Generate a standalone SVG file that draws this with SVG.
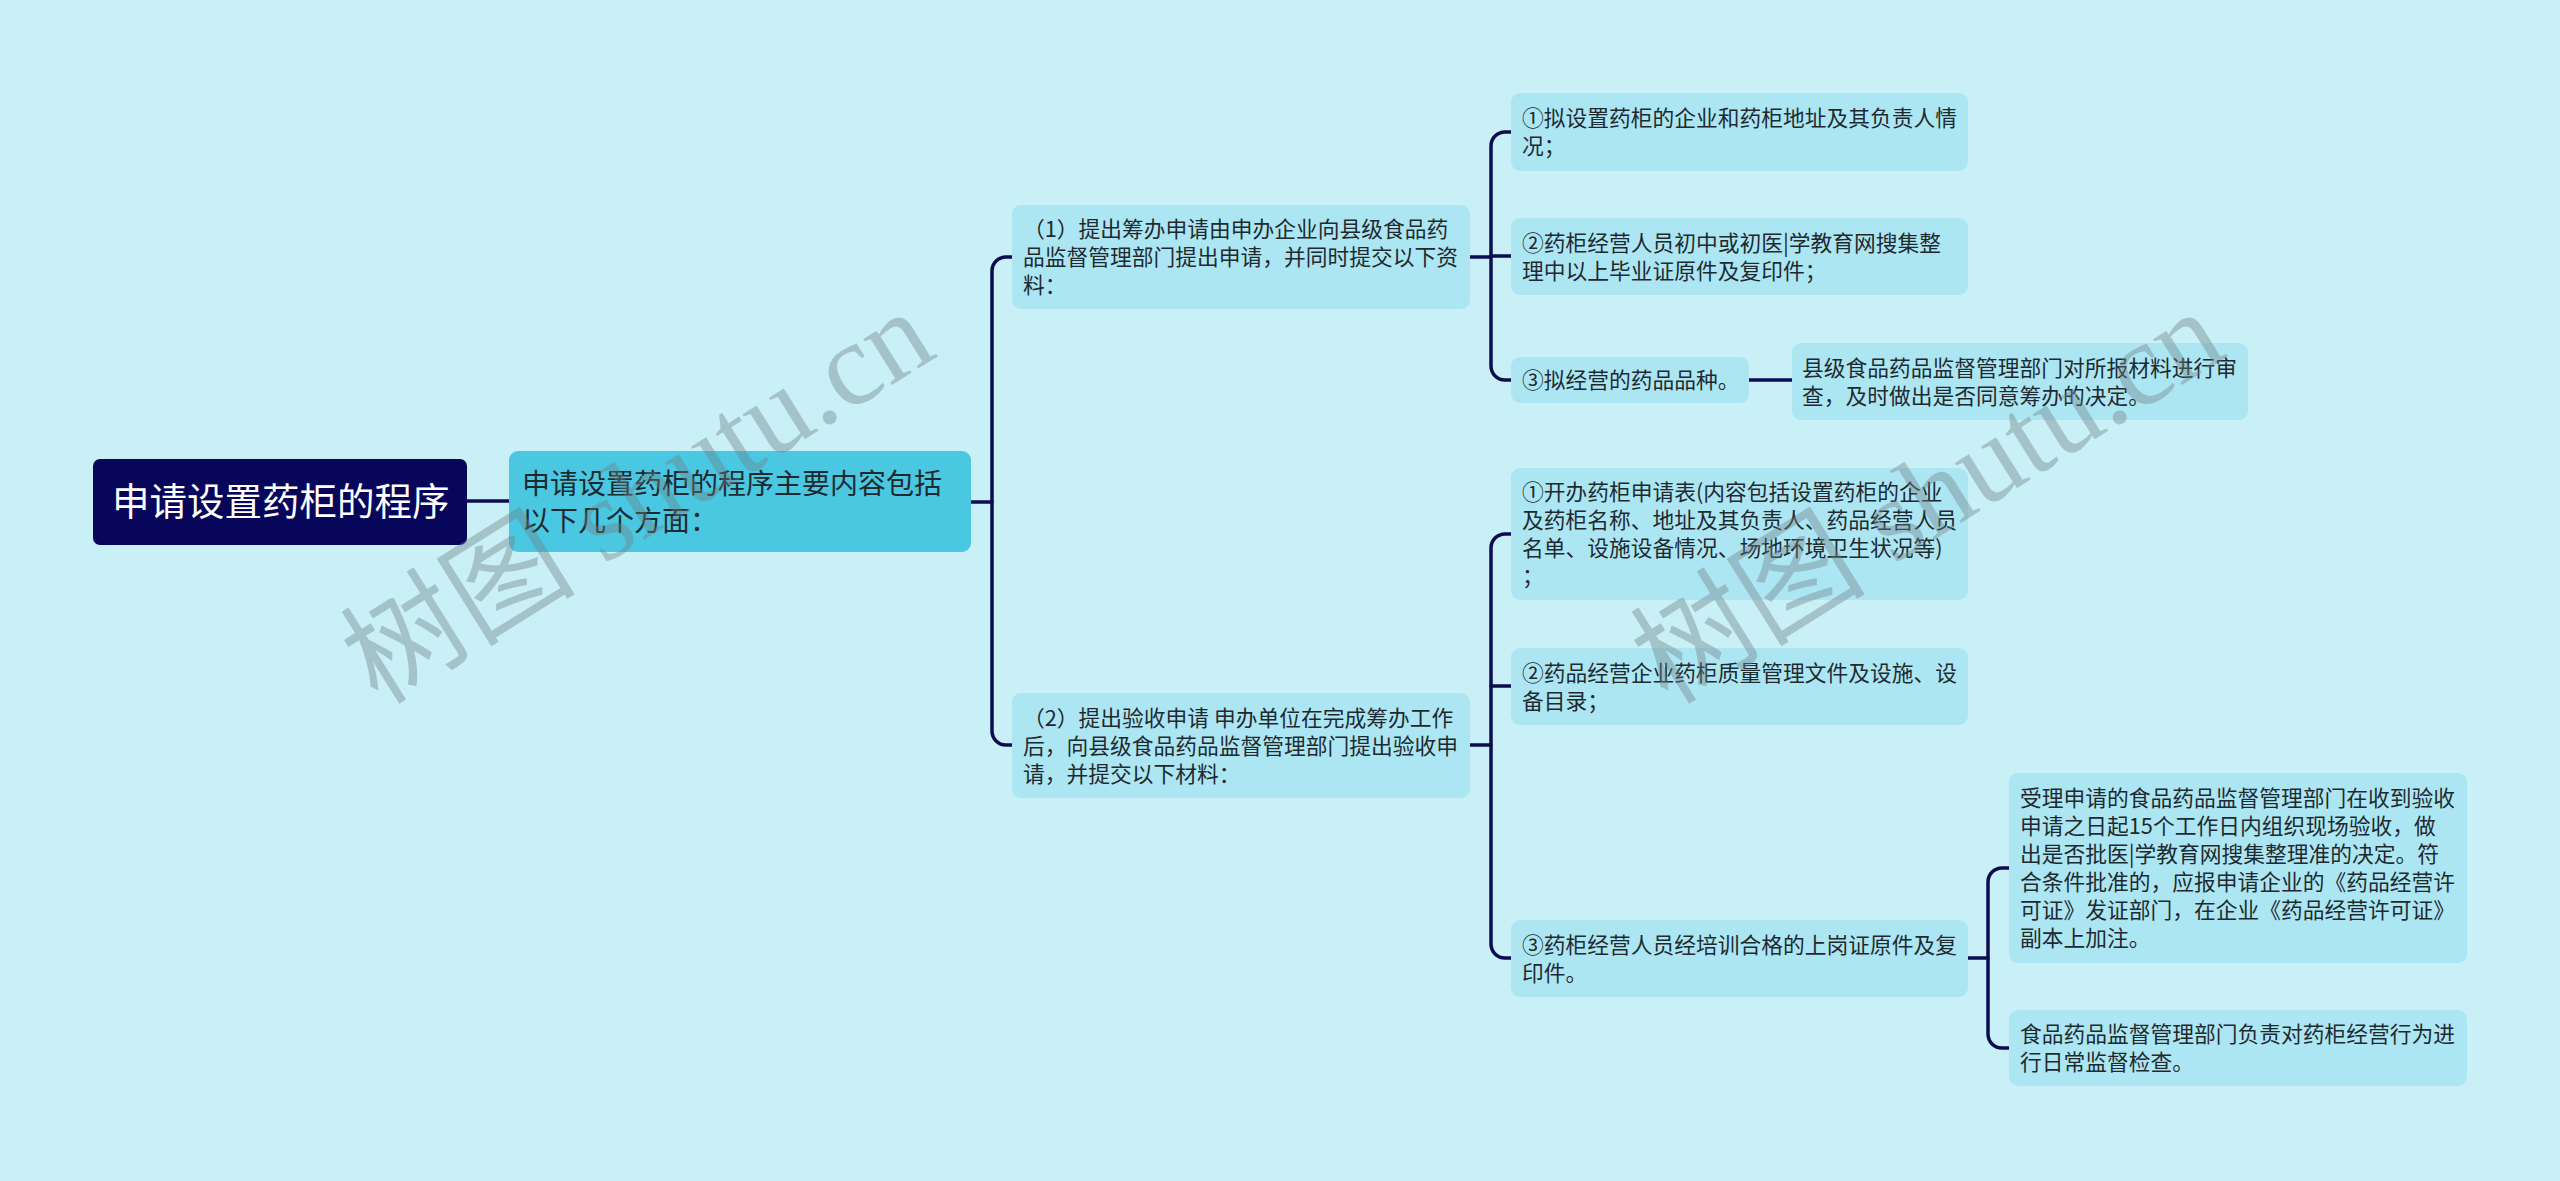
<svg xmlns="http://www.w3.org/2000/svg" width="2560" height="1181" viewBox="0 0 2560 1181">
<style>
.t{font-family:"Noto Sans CJK SC","Noto Sans",sans-serif;fill:#1e2a30;}
.s{font-size:21.75px;}
.leaf{fill:#ade6f3;}
.c{fill:none;stroke:#0c0c50;stroke-width:3.5;stroke-linecap:round;}
.wm{font-family:"Liberation Serif","Noto Sans CJK SC",serif;font-size:118px;fill:#6f7f84;fill-opacity:0.4;}
</style>
<rect width="2560" height="1181" fill="#c9f0f7"/>
<g id="connectors">
<path class="c" d="M467,501 H509"/>
<path class="c" d="M971,502 H992"/>
<path class="c" d="M1012,257 H1006 A14,14 0 0 0 992,271 V731 A14,14 0 0 0 1006,745 H1012"/>
<path class="c" d="M1470,257 H1491"/>
<path class="c" d="M1511,132 H1505 A14,14 0 0 0 1491,146 V366 A14,14 0 0 0 1505,380 H1511"/>
<path class="c" d="M1491,256 H1511"/>
<path class="c" d="M1749,380 H1792"/>
<path class="c" d="M1470,745 H1491"/>
<path class="c" d="M1511,534 H1505 A14,14 0 0 0 1491,548 V944 A14,14 0 0 0 1505,958 H1511"/>
<path class="c" d="M1491,686 H1511"/>
<path class="c" d="M1968,958 H1988"/>
<path class="c" d="M2009,868 H2002 A14,14 0 0 0 1988,882 V1034 A14,14 0 0 0 2002,1048 H2009"/>
</g>
<g id="root">
<rect x="93" y="459" width="374" height="86" rx="7" fill="#07065a"/>
<text class="t" x="112" y="515" font-size="37.5" style="fill:#ffffff">申请设置药柜的程序</text>
</g>
<g id="main">
<rect x="509" y="451" width="462" height="101" rx="9" fill="#4ac8e2"/>
<text class="t" x="522" y="494" font-size="28">申请设置药柜的程序主要内容包括</text>
<text class="t" x="522" y="531" font-size="28">以下几个方面：</text>
</g>
<g id="n1">
<rect class="leaf" x="1012" y="205" width="458" height="104" rx="9"/>
<text class="t s" x="1023" y="237">（1）提出筹办申请由申办企业向县级食品药</text>
<text class="t s" x="1023" y="265">品监督管理部门提出申请，并同时提交以下资</text>
<text class="t s" x="1023" y="293">料：</text>
</g>
<g id="n2">
<rect class="leaf" x="1012" y="693" width="458" height="105" rx="9"/>
<text class="t s" x="1023" y="726">（2）提出验收申请 申办单位在完成筹办工作</text>
<text class="t s" x="1023" y="754">后，向县级食品药品监督管理部门提出验收申</text>
<text class="t s" x="1023" y="782">请，并提交以下材料：</text>
</g>
<g id="n1a">
<rect class="leaf" x="1511" y="93" width="457" height="78" rx="9"/>
<text class="t s" x="1522" y="126">①拟设置药柜的企业和药柜地址及其负责人情</text>
<text class="t s" x="1522" y="154">况；</text>
</g>
<g id="n1b">
<rect class="leaf" x="1511" y="218" width="457" height="77" rx="9"/>
<text class="t s" x="1522" y="251">②药柜经营人员初中或初医|学教育网搜集整</text>
<text class="t s" x="1522" y="279">理中以上毕业证原件及复印件；</text>
</g>
<g id="n1c">
<rect class="leaf" x="1511" y="357" width="238" height="46" rx="9"/>
<text class="t s" x="1522" y="388">③拟经营的药品品种。</text>
</g>
<g id="n1c1">
<rect class="leaf" x="1792" y="343" width="456" height="77" rx="9"/>
<text class="t s" x="1802" y="376">县级食品药品监督管理部门对所报材料进行审</text>
<text class="t s" x="1802" y="404">查，及时做出是否同意筹办的决定。</text>
</g>
<g id="n2a">
<rect class="leaf" x="1511" y="468" width="457" height="132" rx="9"/>
<text class="t s" x="1522" y="500">①开办药柜申请表(内容包括设置药柜的企业</text>
<text class="t s" x="1522" y="528">及药柜名称、地址及其负责人、药品经营人员</text>
<text class="t s" x="1522" y="556">名单、设施设备情况、场地环境卫生状况等)</text>
<text class="t s" x="1522" y="584">；</text>
</g>
<g id="n2b">
<rect class="leaf" x="1511" y="648" width="457" height="77" rx="9"/>
<text class="t s" x="1522" y="681">②药品经营企业药柜质量管理文件及设施、设</text>
<text class="t s" x="1522" y="709">备目录；</text>
</g>
<g id="n2c">
<rect class="leaf" x="1511" y="920" width="457" height="77" rx="9"/>
<text class="t s" x="1522" y="953">③药柜经营人员经培训合格的上岗证原件及复</text>
<text class="t s" x="1522" y="981">印件。</text>
</g>
<g id="n2c1">
<rect class="leaf" x="2009" y="773" width="458" height="190" rx="9"/>
<text class="t s" x="2020" y="806">受理申请的食品药品监督管理部门在收到验收</text>
<text class="t s" x="2020" y="834">申请之日起15个工作日内组织现场验收，做</text>
<text class="t s" x="2020" y="862">出是否批医|学教育网搜集整理准的决定。符</text>
<text class="t s" x="2020" y="890">合条件批准的，应报申请企业的《药品经营许</text>
<text class="t s" x="2020" y="918">可证》发证部门，在企业《药品经营许可证》</text>
<text class="t s" x="2020" y="946">副本上加注。</text>
</g>
<g id="n2c2">
<rect class="leaf" x="2009" y="1010" width="458" height="76" rx="9"/>
<text class="t s" x="2020" y="1042">食品药品监督管理部门负责对药柜经营行为进</text>
<text class="t s" x="2020" y="1070">行日常监督检查。</text>
</g>
<g id="watermarks">
<text class="wm" transform="translate(378,706) rotate(-32)">树图 shutu.cn</text>
<text class="wm" transform="translate(1668,706) rotate(-32)">树图 shutu.cn</text>
</g>
</svg>
